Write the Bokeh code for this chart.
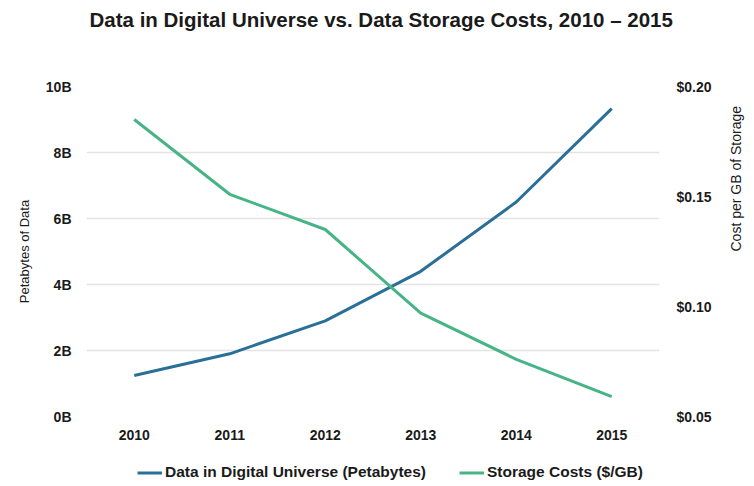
import math
from bokeh.plotting import figure
from bokeh.layouts import column
from bokeh.models import Range1d, LinearAxis, FixedTicker, Legend, LegendItem
from bokeh.embed import file_html
from bokeh.resources import INLINE

years = ["2010", "2011", "2012", "2013", "2014", "2015"]
data_petabytes_b = [1.24, 1.9, 2.9, 4.4, 6.5, 9.33]
storage_cost = [0.185, 0.151, 0.135, 0.097, 0.076, 0.059]

left_ticks = [0, 2, 4, 6, 8, 10]
left_labels = {t: f"{t}B" for t in left_ticks}
right_ticks = [0.05, 0.10, 0.15, 0.20]
right_labels = {t: f"${t:.2f}" for t in right_ticks}
title_text = "Data in Digital Universe vs. Data Storage Costs, 2010 \u2013 2015"

FONT = "Liberation Sans"
TXT = "#1a1a1a"
BLUE = "#2a6f97"
GREEN = "#46b486"


def strip(h):
    f = figure(x_range=(0, 1), y_range=(0, 1), width=754, height=h,
               min_border_left=0, min_border_right=0,
               min_border_top=0, min_border_bottom=0,
               x_axis_type=None, y_axis_type=None,
               output_backend="svg", toolbar_location=None)
    f.outline_line_color = None
    f.xgrid.grid_line_color = None
    f.ygrid.grid_line_color = None
    return f


# title strip
top = strip(46)
top.title.text = title_text
top.title.text_font = FONT
top.title.text_font_size = "20.5px"
top.title.text_font_style = "bold"
top.title.text_color = TXT
top.title.align = "left"
top.title.offset = 3
top.title.vertical_align = "top"
top.title.standoff = 14

p = figure(x_range=years, y_range=Range1d(0, 10),
           width=754, height=416,
           min_border_left=86, min_border_right=90,
           min_border_top=40, min_border_bottom=46,
           output_backend="svg", toolbar_location=None)
p.extra_y_ranges = {"cost": Range1d(0.05, 0.20)}
p.outline_line_color = None
p.xgrid.grid_line_color = None
p.ygrid.grid_line_color = "#e3e3e3"
p.ygrid.grid_line_width = 1.5

r1 = p.line(years, data_petabytes_b, line_color=BLUE, line_width=3)
r2 = p.line(years, storage_cost, line_color=GREEN, line_width=3, y_range_name="cost")

ax_r = LinearAxis(y_range_name="cost", axis_label="Cost per GB of Storage")
p.add_layout(ax_r, "right")

for ax in [p.yaxis[0], ax_r, p.xaxis[0]]:
    ax.axis_line_color = None
    ax.major_tick_line_color = None
    ax.minor_tick_line_color = None
    ax.major_tick_out = 0
    ax.major_tick_in = 0
    ax.major_label_text_font = FONT
    ax.major_label_text_font_size = "14px"
    ax.major_label_text_font_style = "bold"
    ax.major_label_text_color = TXT
    ax.axis_label_text_font = FONT
    ax.axis_label_text_font_size = "13px"
    ax.axis_label_text_font_style = "normal"
    ax.axis_label_text_color = TXT

p.yaxis[0].ticker = FixedTicker(ticks=left_ticks)
p.yaxis[0].major_label_overrides = left_labels
p.yaxis[0].axis_label = "Petabytes of Data"
p.yaxis[0].major_label_standoff = 15
p.yaxis[0].axis_label_standoff = 11
ax_r.ticker = FixedTicker(ticks=right_ticks)
ax_r.major_label_overrides = right_labels
ax_r.major_label_standoff = 17
ax_r.axis_label_standoff = 21
ax_r.axis_label_text_font_size = "14px"
if "axis_label_orientation" in LinearAxis.properties():
    ax_r.axis_label_orientation = math.pi / 2
p.xaxis[0].major_label_standoff = 13

# legend strip below the chart
lg = strip(24)
l1 = lg.line([5, 6], [5, 6], line_color=BLUE, line_width=3)
l2 = lg.line([5, 6], [5, 6], line_color=GREEN, line_width=3)
legend = Legend(items=[LegendItem(label="Data in Digital Universe (Petabytes)", renderers=[l1]),
                       LegendItem(label="Storage Costs ($/GB)", renderers=[l2])],
                orientation="horizontal", location=(51, 5),
                border_line_color=None, background_fill_alpha=0,
                label_text_font=FONT, label_text_font_size="15.5px",
                label_text_font_style="bold", label_text_color=TXT,
                glyph_width=25, glyph_height=15, label_height=15,
                spacing=33, margin=0, padding=1,
                label_standoff=3)
lg.add_layout(legend, "center")

layout = column(top, p, lg, spacing=0)
open("out.html", "w").write(file_html(layout, INLINE))
